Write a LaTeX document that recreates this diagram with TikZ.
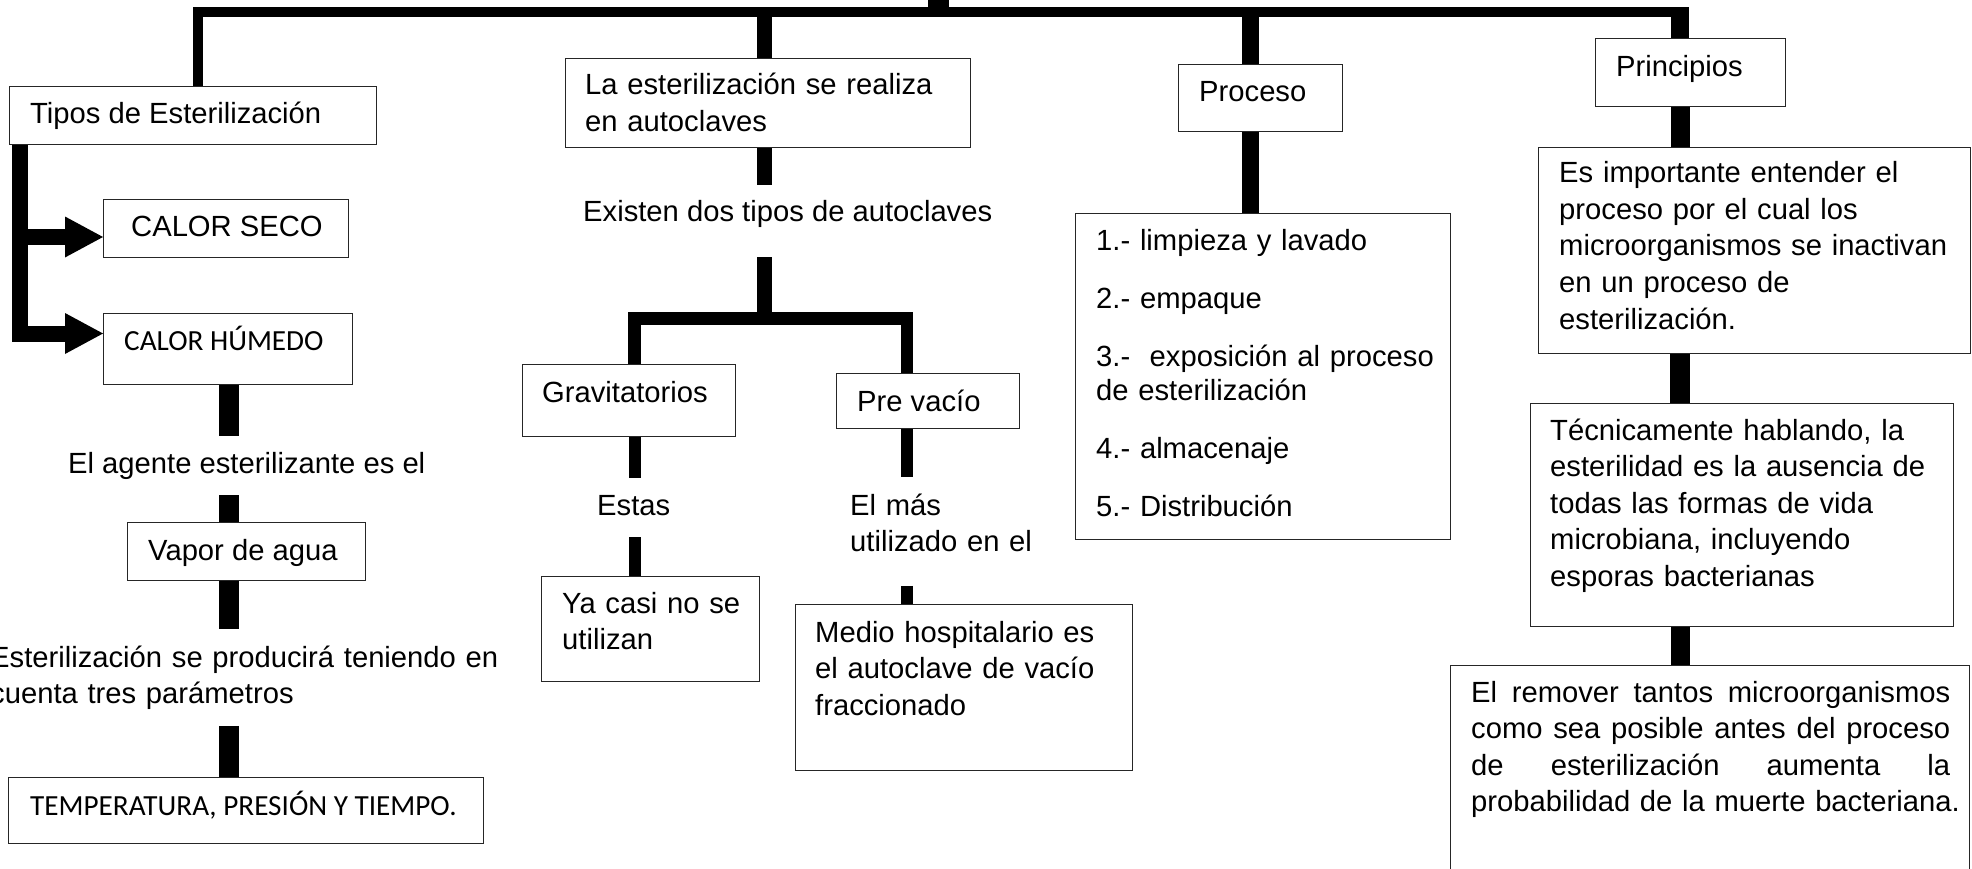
\documentclass[tikz,border=0pt]{standalone}
\usepackage{fontspec}
\setmainfont{Liberation Sans}
\newfontfamily\calibrifont{Carlito}
\usetikzlibrary{arrows.meta}
\definecolor{boxgray}{HTML}{262626}
\newcommand\mybox[5]{\node[box, minimum width={#4-#2}, minimum height={#5-#3}] (#1) at (#2,#3) {};}
\newcommand\jline[1]{\leavevmode\hbox to 479pt{#1}}
\begin{document}
\begin{tikzpicture}[x=1pt,y=-1pt,
  box/.style={draw=boxgray, line width=1.3pt, inner sep=0pt, anchor=north west},
  txt/.style={inner sep=0pt, anchor=base west, font=\fontsize{29.2}{36.5}\selectfont, text=black},
  calibri/.style={font=\calibrifont\fontsize{29.2}{36.5}\selectfont},
  btxt/.style={txt, align=left},
  ctxt/.style={txt, inner xsep=0pt, inner ysep=16pt, text height=21pt, text depth=6pt},
  mtxt/.style={txt, align=left, inner xsep=0pt, inner ysep=16pt},
  stem/.style={draw=black, line cap=butt, line join=miter},
  arr/.style={stem, line width=16pt, -{Triangle[length=38pt,width=41pt,line width=0pt]}}
]
\useasboundingbox (0,0) rectangle (1972,869);
\fill[white] (0,0) rectangle (1972,869);

% ---------- coordinates for connector columns ----------
\coordinate (topC) at (938.5,-3);
\coordinate (xCb) at (938.5,17);
\coordinate (xTop) at (197.5,12.5);
\coordinate (xPrE) at (1689,12.5);
\coordinate (xPrT) at (1680,7.5);
\coordinate (xLa) at (764.5,12.5);
\coordinate (xPo) at (1250.5,12.5);
\coordinate (xR) at (1680,0);
\coordinate (ar1) at (20,237);
\coordinate (ar2) at (20,333.5);
\coordinate (xL) at (229,0);
\coordinate (bM) at (764.5,318.5);
\coordinate (bL) at (634.5,318.5);
\coordinate (bR) at (907,318.5);

% ---------- left column ----------
\mybox{tipos}{9}{86}{376}{144}
\node[txt] (ttipos) at (30,124) {Tipos de Esterilización};
\mybox{cseco}{103}{199}{348}{257}
\node[txt] (tcseco) at (131,236) {CALOR SECO};
\mybox{chum}{103}{313}{352}{384}
\node[txt, calibri] (tchum) at (124,350) {CALOR HÚMEDO};
\node[ctxt] (agente) at (68,473) {El agente esterilizante es el};
\mybox{vapor}{127}{522}{365}{580}
\node[txt] (tvapor) at (148,560) {Vapor de agua};
\node[mtxt, text width=530pt] (esteril) at (-10,667) {Esterilización se producirá teniendo en\\cuenta tres parámetros};
\mybox{temp}{8}{777}{483}{843}
\node[txt, calibri] (ttemp) at (30,815) {TEMPERATURA, PRESIÓN Y TIEMPO.};

% ---------- autoclave column ----------
\mybox{laest}{565}{58}{970}{147}
\node[btxt, text width=380pt] (tlaest) at (585,95) {La esterilización se realiza\\en autoclaves};
\node[ctxt] (existen) at (583,222) {Existen dos tipos de autoclaves};
\mybox{grav}{522}{364}{735}{436}
\node[txt] (tgrav) at (542,402) {Gravitatorios};
\mybox{prevac}{836}{373}{1019}{428}
\node[txt] (tprevac) at (857,411) {Pre vacío};
\node[ctxt] (estas) at (597,515) {Estas};
\node[mtxt, text width=230pt] (elmas) at (850,515) {El más\\utilizado en el};
\mybox{yacasi}{541}{576}{759}{681}
\node[btxt, text width=190pt] (tyacasi) at (562,613) {Ya casi no se\\utilizan};
\mybox{medio}{795}{604}{1132}{770}
\node[btxt, text width=310pt] (tmedio) at (815,642) {Medio hospitalario es\\el autoclave de vacío\\fraccionado};

% ---------- proceso column ----------
\mybox{proceso}{1178}{64}{1342}{131}
\node[txt] (tproceso) at (1199,102) {Proceso};
\mybox{lista}{1075}{213}{1450}{539}
\node[btxt, text width=350pt, font=\fontsize{29.2}{34}\selectfont] (tlista) at (1096,250)
  {1.- limpieza y lavado\\[24pt]2.- empaque\\[24pt]3.-\ \ exposición al proceso\\de esterilización\\[24pt]4.- almacenaje\\[24pt]5.- Distribución};

% ---------- principios column ----------
\mybox{princ}{1595}{38}{1785}{106}
\node[txt] (tprinc) at (1616,77) {Principios};
\mybox{esimp}{1538}{147}{1970}{353}
\node[btxt, text width=410pt] (tesimp) at (1559,183) {Es importante entender el\\proceso por el cual los\\microorganismos se inactivan\\en un proceso de\\esterilización.};
\mybox{tecn}{1530}{403}{1953}{626}
\node[btxt, text width=395pt] (ttecn) at (1550,440) {Técnicamente hablando, la\\esterilidad es la ausencia de\\todas las formas de vida\\microbiana, incluyendo\\esporas bacterianas};
\mybox{remov}{1450}{665}{1969}{885}
\node[btxt, text width=485pt] (tremov) at (1471,702) {\jline{El\hfil\ remover\hfil\ tantos\hfil\ microorganismos}\\\jline{como\hfil\ sea\hfil\ posible\hfil\ antes\hfil\ del\hfil\ proceso}\\\jline{de\hfil\ esterilización\hfil\ aumenta\hfil\ la}\\\jline{probabilidad de la muerte bacteriana.}};

% ---------- connectors ----------
\draw[stem, line width=21pt] (topC) -- (xCb);
\draw[stem, line width=10pt] (xTop |- tipos.north) -- (xTop) -- (xPrE);
\draw[stem, line width=18pt] (xPrT) -- (xR |- princ.north);
\draw[stem, line width=15pt] (xLa) -- (xLa |- laest.north);
\draw[stem, line width=17pt] (xPo) -- (xPo |- proceso.north);
\draw[stem, line width=17pt] (xPo |- proceso.south) -- (xPo |- lista.north);
\draw[stem, line width=19pt] (xR |- princ.south) -- (xR |- esimp.north);
\draw[stem, line width=20pt] (xR |- esimp.south) -- (xR |- tecn.north);
\draw[stem, line width=19pt] (xR |- tecn.south) -- (xR |- remov.north);

\draw[arr] (ar1 |- tipos.south) -- (ar2) -- (ar2 -| chum.west);
\draw[arr] (ar1) -- (ar1 -| cseco.west);
\draw[stem, line width=20pt] (xL |- chum.south) -- (xL |- agente.north);
\draw[stem, line width=20pt] (xL |- agente.south) -- (xL |- vapor.north);
\draw[stem, line width=20pt] (xL |- vapor.south) -- (xL |- esteril.north);
\draw[stem, line width=20pt] (xL |- esteril.south) -- (xL |- temp.north);

\draw[stem, line width=15pt] (xLa |- laest.south) -- (xLa |- existen.north);
\draw[stem, line width=15pt, shorten <=13pt] (xLa |- existen.south) -- (bM);
\draw[stem, line width=12.5pt] (bL |- grav.north) -- (bL) -- (bR) -- (bR |- prevac.north);
\draw[stem, line width=12pt] (bL |- grav.south) -- (bL |- estas.north);
\draw[stem, line width=12pt] (bL |- estas.south) -- (bL |- yacasi.north);
\draw[stem, line width=12pt] (bR |- prevac.south) -- (bR |- elmas.north);
\draw[stem, line width=12pt, shorten <=18pt] (bR |- elmas.south) -- (bR |- medio.north);
\end{tikzpicture}
\end{document}
